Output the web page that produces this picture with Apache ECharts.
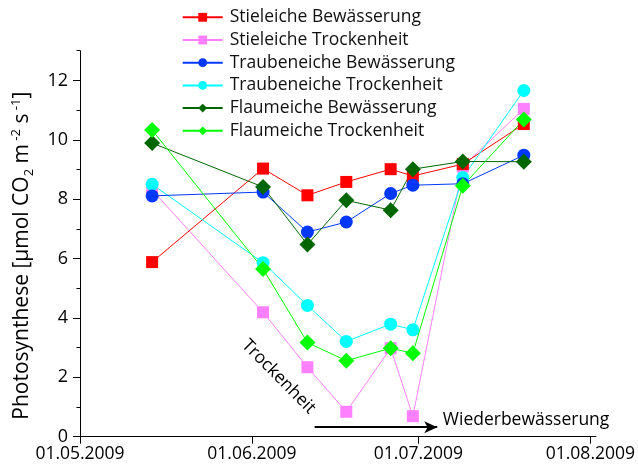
<!DOCTYPE html>
<html><head><meta charset="utf-8">
<script src="https://cdn.jsdelivr.net/npm/echarts@6/dist/echarts.min.js"></script>
<style>html,body{margin:0;padding:0;background:#fff}#c{width:638px;height:466px}</style>
</head><body><div id="c"></div>
<script>
// ---- data ----
const dates = ['2009-05-14','2009-06-03','2009-06-11','2009-06-18','2009-06-26','2009-06-30','2009-07-09','2009-07-20'];
const seriesNames = ['Stieleiche Bewässerung','Stieleiche Trockenheit','Traubeneiche Bewässerung','Traubeneiche Trockenheit','Flaumeiche Bewässerung','Flaumeiche Trockenheit'];
const stielBew   = [5.88, 9.03, 8.13, 8.58, 9.01, 8.78, 9.18, 10.53];
const stielTro   = [8.31, 4.19, 2.34, 0.84, 2.98, 0.69, 9.10, 11.04];
const traubBew   = [8.11, 8.24, 6.89, 7.23, 8.19, 8.47, 8.52, 9.48];
const traubTro   = [8.50, 5.86, 4.42, 3.21, 3.79, 3.60, 8.73, 11.66];
const flaumBew   = [9.89, 8.41, 6.47, 7.96, 7.63, 9.01, 9.27, 9.26];
const flaumTro   = [10.33, 5.65, 3.17, 2.56, 2.98, 2.81, 8.45, 10.68];
const xTickDates = ['2009-05-01','2009-06-01','2009-07-01','2009-08-01'];
const xTickLabels = ['01.05.2009','01.06.2009','01.07.2009','01.08.2009'];
const yTicks = [0,2,4,6,8,10,12];
const yMinorTicks = [1,3,5,7,9,11,13];
const arrowFrom = 42.3, arrowTo = 64.4, arrowY = 0.32; // days since 01.05.2009
const dryLabel = {text:'Trockenheit', day:35.8, y:2.02};
const rewetLabel = {text:'Wiederbewässerung', day:65.4, y:0.57};

// ---- helpers ----
const origin = Date.UTC(2009,4,1);
function dayOf(s){const p=s.split('-').map(Number);return (Date.UTC(p[0],p[1]-1,p[2])-origin)/86400000;}
const xDays = dates.map(dayOf);
const tickDays = xTickDates.map(dayOf);
function pts(vals){return vals.map((v,i)=>[xDays[i],v]);}

const FONT = 'Open Sans';
const FS = 17.5;
const styles = {
  'Stieleiche Bewässerung':   {color:'#ff0000', symbol:'rect', size:12, data:stielBew},
  'Stieleiche Trockenheit':   {color:'#ff80ff', symbol:'rect', size:12, data:stielTro},
  'Traubeneiche Bewässerung': {color:'#0038ff', symbol:'circle', size:13, data:traubBew},
  'Traubeneiche Trockenheit': {color:'#00ffff', symbol:'circle', size:13, data:traubTro},
  'Flaumeiche Bewässerung':   {color:'#006600', symbol:'diamond', size:16, data:flaumBew},
  'Flaumeiche Trockenheit':   {color:'#00ff00', symbol:'diamond', size:16, data:flaumTro}
};
const drawOrder = ['Stieleiche Trockenheit','Stieleiche Bewässerung','Traubeneiche Trockenheit','Traubeneiche Bewässerung','Flaumeiche Bewässerung','Flaumeiche Trockenheit'];

const series = drawOrder.map(n=>{
  const s = styles[n];
  return {
    name:n, type:'line', data:pts(s.data), symbol:s.symbol, symbolSize:s.size,
    showSymbol:true, animation:false,
    itemStyle:{color:s.color, opacity:1},
    lineStyle:{color:s.color, width:1},
    emphasis:{disabled:true}
  };
});
series[0].markLine = {
  silent:true, symbol:['none','arrow'], symbolSize:[9,13], animation:false,
  label:{show:false}, lineStyle:{color:'#000', width:2, type:'solid'},
  data:[[{coord:[arrowFrom,arrowY]},{coord:[arrowTo,arrowY]}]]
};

const chart = echarts.init(document.getElementById('c'), null, {renderer:'canvas'});
chart.setOption({
  animation:false,
  textStyle:{fontFamily:FONT},
  grid:{left:80, right:39.7, top:50.7, bottom:29.3, containLabel:false},
  legend:{
    orient:'vertical', left:181.7, top:7.3, padding:0, itemWidth:40, itemHeight:11, itemGap:2.7,
    data:seriesNames, selectedMode:false,
    textStyle:{fontFamily:FONT, fontSize:FS, color:'#111', lineHeight:20, padding:[0,0,0,2]}
  },
  xAxis:{
    type:'value', min:0, max:93,
    axisLine:{lineStyle:{color:'#000', width:1}},
    axisTick:{show:true, inside:false, length:7, lineStyle:{color:'#000'}, customValues:tickDays},
    axisLabel:{customValues:tickDays, margin:8, fontSize:FS, color:'#000', fontFamily:FONT,
      formatter:v=>{const i=tickDays.indexOf(v);return i>=0?xTickLabels[i]:'';}},
    splitLine:{show:false}
  },
  yAxis:[{
    type:'value', min:0, max:13, position:'left',
    axisLine:{show:true, lineStyle:{color:'#000', width:1}},
    axisTick:{show:true, length:7, lineStyle:{color:'#000'}, customValues:yTicks},
    axisLabel:{customValues:yTicks, margin:12, fontSize:18, color:'#000', fontFamily:FONT},
    splitLine:{show:false},
    name:'{a|Photosynthese [µmol CO}{sub|2}{a| m}{sup| -2}{a| s}{sup| -1}{a|]}',
    nameLocation:'middle', nameRotate:90, nameGap:44.5,
    nameTextStyle:{padding:[0,24,0,0], rich:{
      a:{fontFamily:FONT, fontSize:21, color:'#000', lineHeight:26, verticalAlign:'middle'},
      sub:{fontFamily:FONT, fontSize:13, color:'#000', lineHeight:26, verticalAlign:'bottom'},
      sup:{fontFamily:FONT, fontSize:13, color:'#000', lineHeight:26, verticalAlign:'top'}
    }}
  },{
    type:'value', min:0, max:13, position:'left',
    axisLine:{show:false},
    axisTick:{show:true, length:3.5, lineStyle:{color:'#000'}, customValues:yMinorTicks},
    axisLabel:{show:false}, splitLine:{show:false}
  }],
  series:series
});

function px(day,y){return chart.convertToPixel({gridIndex:0},[day,y]);}
const p1 = px(dryLabel.day, dryLabel.y), p2 = px(rewetLabel.day, rewetLabel.y);
chart.setOption({graphic:[
  {type:'text', x:p1[0], y:p1[1], rotation:-0.79, silent:true,
   style:{text:dryLabel.text, fontFamily:FONT, fontSize:FS, fill:'#000', align:'center', verticalAlign:'middle'}},
  {type:'text', x:p2[0], y:p2[1], silent:true,
   style:{text:rewetLabel.text, fontFamily:FONT, fontSize:FS, fill:'#000', align:'left', verticalAlign:'middle'}}
]});
</script></body></html>
